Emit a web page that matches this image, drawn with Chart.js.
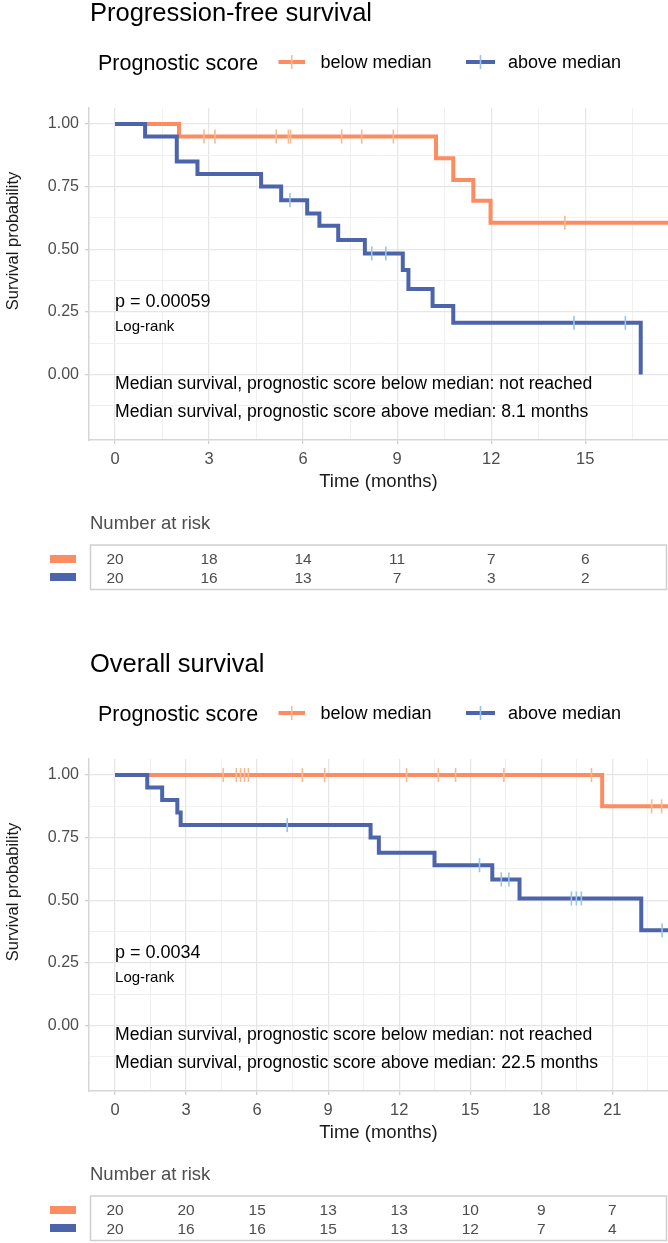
<!DOCTYPE html>
<html>
<head>
<meta charset="utf-8">
<script src="https://cdn.jsdelivr.net/npm/chart.js@4.4.1/dist/chart.umd.min.js"></script>
<style>
  body { margin: 0; background: #fff; width: 668px; height: 1243px; overflow: hidden; position: relative; }
  .panel { position: absolute; left: 0; width: 668px; }
</style>
</head>
<body>
<div class="panel" style="top:0;height:600px"><canvas id="pfsChart"></canvas></div>
<div class="panel" style="top:651px;height:592px"><canvas id="osChart"></canvas></div>
<script>
const ORANGE = '#FC8D62';
const BLUE = '#4C65AA';
const ORANGE_CENSOR = '#F8BA90';
const BLUE_CENSOR = '#95C4EC';
const FONT = '"Liberation Sans", Arial, sans-serif';

const groupNames = ['below median', 'above median'];
const yMajor = [0, 0.25, 0.5, 0.75, 1];
const yLabels = ['0.00', '0.25', '0.50', '0.75', '1.00'];
const yMinor = [-0.125, 0.125, 0.375, 0.625, 0.875];

// Progression-free survival (time in months, survival probability)
const pfsBelowTime = [0, 2.04, 10.24, 10.79, 11.43, 11.98, 17.64];
const pfsBelowSurv = [1, 0.95, 0.863, 0.776, 0.694, 0.606, 0.606];
const pfsBelowCensor = [2.84, 3.19, 5.14, 5.53, 5.60, 7.23, 7.87, 8.88, 14.35];
const pfsAboveTime = [0, 0.96, 1.97, 2.63, 4.66, 5.30, 6.13, 6.52, 7.12, 7.97, 9.18, 9.36, 10.13, 10.79, 16.77];
const pfsAboveSurv = [1, 0.95, 0.85, 0.80, 0.75, 0.696, 0.643, 0.594, 0.537, 0.483, 0.417, 0.341, 0.273, 0.206, 0];
const pfsAboveCensor = [5.58, 8.19, 8.64, 14.64, 16.28];
const pfsRiskTime = [0, 3, 6, 9, 12, 15];
const pfsRiskBelow = [20, 18, 14, 11, 7, 6];
const pfsRiskAbove = [20, 16, 13, 7, 3, 2];
const pfsXMinor = [1.5, 4.5, 7.5, 10.5, 13.5, 16.5];

// Overall survival
const osBelowTime = [0, 20.57, 23.35];
const osBelowSurv = [1, 0.875, 0.875];
const osBelowCensor = [4.57, 5.12, 5.30, 5.47, 5.63, 7.91, 8.85, 12.31, 13.65, 14.38, 16.42, 20.12, 22.66, 23.08];
const osAboveTime = [0, 1.36, 1.99, 2.63, 2.77, 10.79, 11.14, 13.49, 15.93, 17.08, 22.22, 23.35];
const osAboveSurv = [1, 0.95, 0.90, 0.85, 0.80, 0.75, 0.69, 0.64, 0.583, 0.507, 0.38, 0.38];
const osAboveCensor = [7.27, 15.39, 16.31, 16.63, 19.27, 19.48, 19.69, 23.1];
const osRiskTime = [0, 3, 6, 9, 12, 15, 18, 21];
const osRiskBelow = [20, 20, 15, 13, 13, 10, 9, 7];
const osRiskAbove = [20, 16, 16, 15, 13, 12, 7, 4];
const osXMinor = [1.5, 4.5, 7.5, 10.5, 13.5, 16.5, 19.5, 22.5];

Chart.defaults.font.family = FONT;

// valeur de la courbe en escalier au temps t
function survAt(times, surv, t) {
  let s = surv[0];
  times.forEach((ti, i) => { if (ti <= t) s = surv[i]; });
  return s;
}

function legendKey(ctx, x1, x2, y, color, tickColor) {
  ctx.strokeStyle = color;
  ctx.lineWidth = 4;
  ctx.beginPath(); ctx.moveTo(x1, y); ctx.lineTo(x2, y); ctx.stroke();
  ctx.strokeStyle = tickColor;
  ctx.lineWidth = 1.6;
  const xm = (x1 + x2) / 2;
  ctx.beginPath(); ctx.moveTo(xm, y - 7); ctx.lineTo(xm, y + 7); ctx.stroke();
}

const kmOverlay = {
  id: 'kmOverlay',
  afterDraw(chart, args, opts) {
    const ctx = chart.ctx;
    const xs = chart.scales.x;
    const ys = chart.scales.y;
    ctx.save();
    ctx.textAlign = 'left';
    ctx.fillStyle = '#000';

    // titre
    ctx.textBaseline = 'alphabetic';
    ctx.font = `25.5px ${FONT}`;
    ctx.fillText(opts.title, 90, 21);

    // légende
    ctx.textBaseline = 'middle';
    ctx.font = `21.5px ${FONT}`;
    ctx.fillText('Prognostic score', 98, 64);
    legendKey(ctx, 278.5, 305, 62, ORANGE, ORANGE_CENSOR);
    legendKey(ctx, 466, 495, 62, BLUE, BLUE_CENSOR);
    ctx.fillStyle = '#000';
    ctx.font = `18px ${FONT}`;
    ctx.fillText(groupNames[0], 320.5, 63);
    ctx.fillText(groupNames[1], 508, 63);

    // titre de l'axe y
    ctx.save();
    ctx.translate(13, 241);
    ctx.rotate(-Math.PI / 2);
    ctx.textAlign = 'center';
    ctx.fillStyle = '#1A1A1A';
    ctx.font = `16.5px ${FONT}`;
    ctx.fillText('Survival probability', 0, 0);
    ctx.restore();

    // annotations
    const x0 = xs.getPixelForValue(0);
    ctx.fillStyle = '#000';
    ctx.font = `18px ${FONT}`;
    ctx.fillText(opts.pText, x0, ys.getPixelForValue(0.29));
    ctx.font = `15px ${FONT}`;
    ctx.fillText('Log-rank', x0, ys.getPixelForValue(0.189));
    ctx.font = `17.6px ${FONT}`;
    ctx.fillText(opts.median[0], x0, ys.getPixelForValue(-0.039));
    ctx.fillText(opts.median[1], x0, ys.getPixelForValue(-0.149));

    // tableau des effectifs
    ctx.fillStyle = '#4D4D4D';
    ctx.font = `18.5px ${FONT}`;
    ctx.fillText('Number at risk', 90, 523.5);
    ctx.strokeStyle = '#CFCFCF';
    ctx.lineWidth = 1.5;
    ctx.strokeRect(90.5, 545, 576, 44.5);
    ctx.fillStyle = ORANGE;
    ctx.fillRect(50, 555, 26, 8);
    ctx.fillStyle = BLUE;
    ctx.fillRect(50, 573, 26, 8);
    ctx.fillStyle = '#4D4D4D';
    ctx.textAlign = 'center';
    ctx.font = `15.5px ${FONT}`;
    opts.riskTime.forEach((t, i) => {
      const px = xs.getPixelForValue(t);
      ctx.fillText(String(opts.riskBelow[i]), px, 559.7);
      ctx.fillText(String(opts.riskAbove[i]), px, 579);
    });
    ctx.restore();
  }
};

function buildChart(id, spec) {
  const canvas = document.getElementById(id);
  const H = canvas.parentNode.clientHeight;
  const xAll = spec.xTicks.concat(spec.xMinor).sort((a, b) => a - b);
  const yAll = yMajor.concat(yMinor).sort((a, b) => a - b);
  const isMajorX = v => spec.xTicks.includes(v);
  const isMajorY = v => yMajor.includes(v);

  const stepData = (t, s) => t.map((ti, i) => ({ x: ti, y: s[i] }));
  const censorData = (c, t, s) => c.map(ci => ({ x: ci, y: survAt(t, s, ci) }));

  const lineDs = (label, data, color, order) => ({
    type: 'line', label, data, order,
    borderColor: color, backgroundColor: color, borderWidth: 4,
    stepped: 'before', pointRadius: 0, fill: false,
    borderJoinStyle: 'miter', borderCapStyle: 'butt'
  });
  const censorDs = (label, data, color, order) => ({
    type: 'scatter', label, data, order,
    pointStyle: 'line', rotation: 90, pointRadius: 7, pointHoverRadius: 7,
    pointBorderWidth: 1.6, borderColor: color, backgroundColor: color, showLine: false
  });

  return new Chart(canvas, {
    type: 'line',
    data: {
      datasets: [
        lineDs(groupNames[0], stepData(spec.belowTime, spec.belowSurv), ORANGE, 4),
        censorDs(groupNames[0] + ' censored', censorData(spec.belowCensor, spec.belowTime, spec.belowSurv), ORANGE_CENSOR, 3),
        lineDs(groupNames[1], stepData(spec.aboveTime, spec.aboveSurv), BLUE, 2),
        censorDs(groupNames[1] + ' censored', censorData(spec.aboveCensor, spec.aboveTime, spec.aboveSurv), BLUE_CENSOR, 1)
      ]
    },
    options: {
      responsive: true,
      maintainAspectRatio: false,
      animation: false,
      devicePixelRatio: 1,
      layout: { autoPadding: false, padding: { top: 108, left: 0, right: 0, bottom: H - 440 - 60 } },
      plugins: {
        legend: { display: false },
        tooltip: { enabled: false },
        kmOverlay: spec.overlay
      },
      scales: {
        x: {
          type: 'linear',
          min: spec.xMin,
          max: spec.xMax,
          afterBuildTicks: axis => { axis.ticks = xAll.map(v => ({ value: v })); },
          afterFit: axis => { axis.height = 60; },
          ticks: {
            autoSkip: false, maxRotation: 0, padding: 6,
            color: '#4D4D4D', font: { size: 16.5 },
            callback: v => isMajorX(v) ? String(v) : ''
          },
          grid: {
            color: c => isMajorX(c.tick.value) ? '#E6E6E6' : '#F0F0F0',
            lineWidth: c => isMajorX(c.tick.value) ? 1.3 : 1,
            tickColor: c => isMajorX(c.tick.value) ? '#CFCFCF' : 'rgba(0,0,0,0)',
            tickLength: 4
          },
          border: { display: true, color: '#D6D6D6', width: 1.5 },
          title: { display: true, text: 'Time (months)', color: '#1A1A1A', font: { size: 18.5 }, padding: { top: 0, bottom: 7 } }
        },
        y: {
          type: 'linear',
          min: -0.262,
          max: 1.064,
          afterBuildTicks: axis => { axis.ticks = yAll.map(v => ({ value: v })); },
          afterFit: axis => { axis.width = 89; },
          ticks: {
            autoSkip: false, padding: 6,
            color: '#4D4D4D', font: { size: 16 },
            callback: v => isMajorY(v) ? yLabels[yMajor.indexOf(v)] : ''
          },
          grid: {
            color: c => isMajorY(c.tick.value) ? '#E6E6E6' : '#F0F0F0',
            lineWidth: c => isMajorY(c.tick.value) ? 1.3 : 1,
            tickColor: c => isMajorY(c.tick.value) ? '#CFCFCF' : 'rgba(0,0,0,0)',
            tickLength: 4
          },
          border: { display: true, color: '#D6D6D6', width: 1.5 },
          title: { display: false }
        }
      }
    },
    plugins: [kmOverlay]
  });
}

buildChart('pfsChart', {
  belowTime: pfsBelowTime, belowSurv: pfsBelowSurv, belowCensor: pfsBelowCensor,
  aboveTime: pfsAboveTime, aboveSurv: pfsAboveSurv, aboveCensor: pfsAboveCensor,
  xTicks: pfsRiskTime, xMinor: pfsXMinor, xMin: -0.83, xMax: 17.64,
  overlay: {
    title: 'Progression-free survival',
    pText: 'p = 0.00059',
    median: ['Median survival, prognostic score below median: not reached',
             'Median survival, prognostic score above median: 8.1 months'],
    riskTime: pfsRiskTime, riskBelow: pfsRiskBelow, riskAbove: pfsRiskAbove
  }
});

buildChart('osChart', {
  belowTime: osBelowTime, belowSurv: osBelowSurv, belowCensor: osBelowCensor,
  aboveTime: osAboveTime, aboveSurv: osAboveSurv, aboveCensor: osAboveCensor,
  xTicks: osRiskTime, xMinor: osXMinor, xMin: -1.10, xMax: 23.35,
  overlay: {
    title: 'Overall survival',
    pText: 'p = 0.0034',
    median: ['Median survival, prognostic score below median: not reached',
             'Median survival, prognostic score above median: 22.5 months'],
    riskTime: osRiskTime, riskBelow: osRiskBelow, riskAbove: osRiskAbove
  }
});
</script>
</body>
</html>
